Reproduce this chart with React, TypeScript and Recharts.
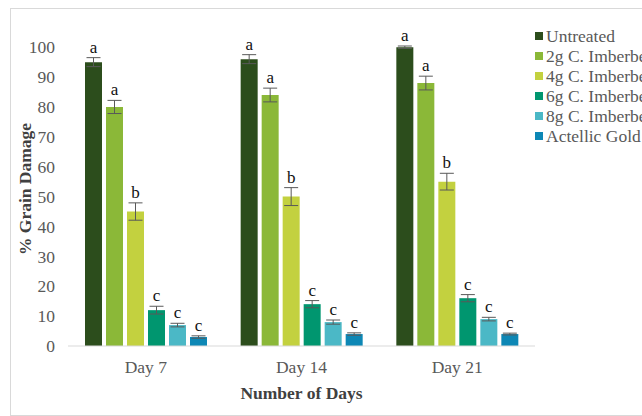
import React from "react";
import { BarChart, Bar, XAxis, YAxis, ErrorBar, Legend } from "recharts";

const days = ["Day 7", "Day 14", "Day 21"];
const treatments = ["Untreated", "2g C. Imberbe", "4g C. Imberbe", "6g C. Imberbe", "8g C. Imberbe", "Actellic Gold"];
const colors = ["#2c4d1c", "#8bb838", "#c3d13f", "#00966f", "#4bb8c6", "#0d87b5"];

// mean % damage per treatment, one value per day
const untreated = [95, 96, 100];
const imberbe2g = [80, 84, 88];
const imberbe4g = [45, 50, 55];
const imberbe6g = [12, 14, 16];
const imberbe8g = [7, 8, 9];
const actellic = [3, 4, 4];

// standard errors
const untreatedErr = [1.5, 1.5, 0.4];
const imberbe2gErr = [2.2, 2.3, 2.3];
const imberbe4gErr = [2.9, 3, 2.8];
const imberbe6gErr = [1.3, 1.2, 1.2];
const imberbe8gErr = [0.6, 0.7, 0.6];
const actellicErr = [0.4, 0.4, 0.3];

// significance letters
const letters = ["a", "a", "b", "c", "c", "c"];
const yTicks = [0, 10, 20, 30, 40, 50, 60, 70, 80, 90, 100];

const values = [untreated, imberbe2g, imberbe4g, imberbe6g, imberbe8g, actellic];
const errors = [untreatedErr, imberbe2gErr, imberbe4gErr, imberbe6gErr, imberbe8gErr, actellicErr];

const data = days.map((d, i) => {
  const row: { [k: string]: any } = { day: d };
  values.forEach((v, s) => {
    row["s" + s] = v[i];
    row["e" + s] = errors[s][i];
  });
  return row;
});

const serif = "Liberation Serif";

const letterLabel = (s: number) => (props: any) => {
  const { x, y, width, height, index } = props;
  const v = values[s][index];
  const perUnit = v ? height / v : 0;
  const top = y - errors[s][index] * perUnit;
  return (
    <text x={x + width / 2} y={top - 5} textAnchor="middle" fontFamily={serif} fontSize={17} fill="#111">
      {letters[s]}
    </text>
  );
};

const legendContent = () => (
  <div style={{ fontFamily: serif, fontSize: 17.5, color: "#595959", whiteSpace: "nowrap", lineHeight: "20px" }}>
    {treatments.map((t, i) => (
      <div key={t} style={{ display: "flex", alignItems: "center", height: 20 }}>
        <span style={{ width: 8, height: 8, background: colors[i], marginRight: 3, display: "inline-block" }} />
        {t}
      </div>
    ))}
  </div>
);

const yTitle = () => (
  <text
    x={25}
    y={189}
    transform="rotate(-90 25 189)"
    textAnchor="middle"
    dominantBaseline="central"
    fontFamily={serif}
    fontSize={17.5}
    fontWeight="bold"
    fill="#404040"
  >
    % Grain Damage
  </text>
);

export default function App() {
  return (
    <div style={{ position: "absolute", left: 0, top: 0, width: 642, height: 416, overflow: "hidden", background: "#fff" }}>
      <div
        style={{
          position: "absolute",
          left: 10,
          top: 8,
          width: 700,
          height: 406,
          border: "1px solid #d9d9d9",
        }}
      />
      <div style={{ position: "absolute", left: 0, top: 0 }}>
        <BarChart
          width={642}
          height={416}
          data={data}
          margin={{ top: 46, right: 107, bottom: 0, left: 8 }}
          barSize={17}
          barGap={4}
        >
          <XAxis
            dataKey="day"
            height={70}
            tickLine={false}
            axisLine={{ stroke: "#d9d9d9" }}
            tickMargin={9}
            tick={{ fontFamily: serif, fontSize: 17.5, fill: "#595959" }}
            label={{
              value: "Number of Days",
              position: "insideBottom",
              offset: 17,
              style: { fontFamily: serif, fontSize: 17.5, fontWeight: "bold", fill: "#404040" },
            }}
          />
          <YAxis
            width={60}
            domain={[0, 100]}
            ticks={yTicks}
            interval={0}
            axisLine={false}
            tickLine={false}
            tickMargin={7}
            tick={{ fontFamily: serif, fontSize: 17.5, fill: "#595959" }}
            label={{ value: "% Grain Damage", content: yTitle }}
          />
          <Legend
            layout="vertical"
            align="center"
            verticalAlign="middle"
            content={legendContent}
            wrapperStyle={{ position: "absolute", left: 535, top: 26, width: 160 }}
          />
          {treatments.map((t, s) => (
            <Bar key={t} dataKey={"s" + s} name={t} fill={colors[s]} isAnimationActive={false} label={letterLabel(s)}>
              <ErrorBar dataKey={"e" + s} width={7} stroke="#595959" strokeWidth={1} direction="y" />
            </Bar>
          ))}
        </BarChart>
      </div>
    </div>
  );
}
